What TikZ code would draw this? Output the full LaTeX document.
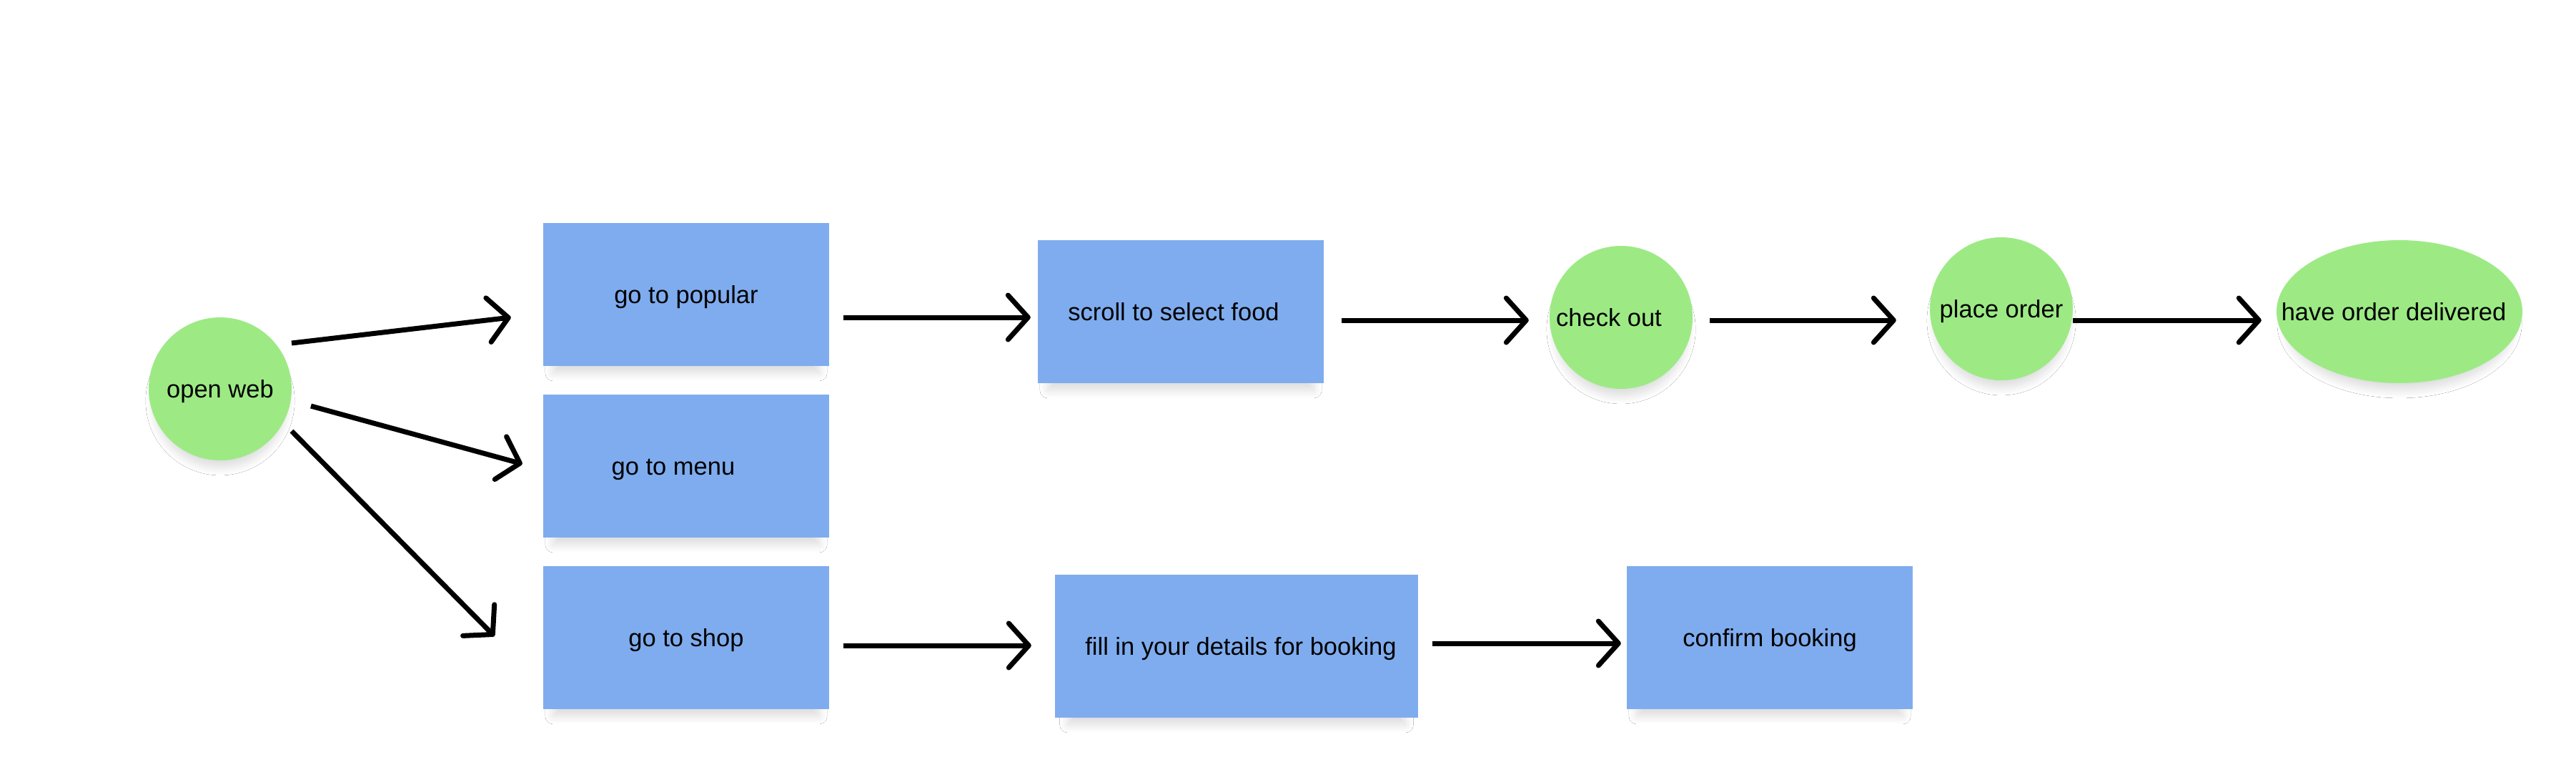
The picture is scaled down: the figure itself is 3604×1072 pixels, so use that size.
\documentclass[tikz,border=0pt]{standalone}
\usepackage{fontspec}
\setmainfont{Liberation Sans}
\usetikzlibrary{arrows.meta,shapes.geometric,shadows.blur}
\definecolor{boxblue}{RGB}{127,172,238}
\definecolor{nodegreen}{RGB}{157,234,133}
\tikzset{
  softshadow/.style={blur shadow={shadow xshift=0pt,shadow yshift=-18pt,shadow scale=0.93,shadow blur radius=12pt,shadow blur steps=14,shadow opacity=14}},
  stepbox/.style={rectangle,fill=boxblue,minimum width=400pt,minimum height=200pt,inner sep=0pt,text height=28pt,text depth=4pt,softshadow},
  endnode/.style={ellipse,fill=nodegreen,minimum width=200pt,minimum height=200pt,inner sep=0pt,text height=28pt,text depth=4pt,softshadow},
  arr/.style={line width=7pt,-{Straight Barb[length=28pt,width=62pt,round]}},
}
\begin{document}
\begin{tikzpicture}[x=1pt,y=-1pt,font=\fontsize{34.5}{40}\selectfont]
\useasboundingbox[fill=white] (0,0) rectangle (3604,1072);
% nodes
\node[endnode] (web) at (308,544) {\makebox[0pt]{open web}};
\node[stepbox] (pop) at (960,412) {go to popular};
\node[stepbox] (menu) at (960,652) {\makebox[0pt]{\hspace*{-36pt}go to menu}};
\node[stepbox] (shop) at (960,892) {go to shop};
\node[stepbox] (scroll) at (1652,436) {\makebox[0pt]{\hspace*{-20pt}scroll to select food}};
\node[endnode] (check) at (2268,444) {\makebox[0pt]{\hspace*{-34pt}check out}};
\node[endnode] (place) at (2800,432) {\makebox[0pt]{place order}};
\node[endnode,minimum width=344pt] (deliv) at (3357,436) {\makebox[0pt]{\hspace*{-16pt}have order delivered}};
\node[stepbox,minimum width=508pt] (fill) at (1730,904) {\makebox[0pt]{\hspace*{12pt}fill in your details for booking}};
\node[stepbox] (confirm) at (2476,892) {confirm booking};
% connectors
\draw[arr] ([shift={(100,-64)}]web.center) -- ([shift={(-45,32)}]pop.west);
\draw[arr] ([shift={(127,24)}]web.center) -- ([shift={(-29,-3)}]menu.west);
\draw[arr] ([shift={(100,59)}]web.center) -- ([shift={(-68,-2)}]shop.west);
\draw[arr] ([shift={(20,32)}]pop.east) -- ([shift={(-10,8)}]scroll.west);
\draw[arr] ([shift={(25,12)}]scroll.east) -- ([shift={(-29,4)}]check.west);
\draw[arr] ([shift={(24,4)}]check.east) -- ([shift={(-47,16)}]place.west);
\draw[arr] ([shift={(0,16)}]place.east) -- ([shift={(-21,12)}]deliv.west);
\draw[arr] ([shift={(20,11)}]shop.east) -- ([shift={(-33,-1)}]fill.west);
\draw[arr] ([shift={(20,-4)}]fill.east) -- ([shift={(-8,8)}]confirm.west);
\end{tikzpicture}
\end{document}
